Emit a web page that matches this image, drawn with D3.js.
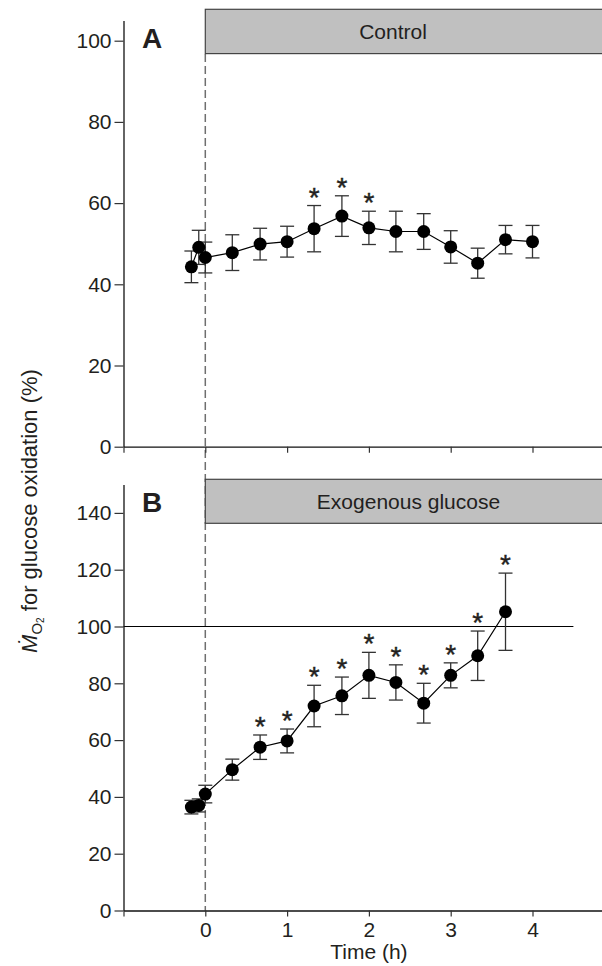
<!DOCTYPE html>
<html><head><meta charset="utf-8">
<script src="https://cdn.jsdelivr.net/npm/d3@7"></script>
<style>
html,body{margin:0;padding:0;background:#fff;}
svg text{font-family:"Liberation Sans",Arial,sans-serif;fill:#231f20;}
</style></head>
<body>
<svg id="chart" width="602" height="966"></svg>
<script>
// ---- data ----
const timesA = [-0.17, -0.08, 0, 0.33, 0.67, 1, 1.33, 1.67, 2, 2.33, 2.67, 3, 3.33, 3.67, 4];
const meanA  = [44.3, 49.1, 46.6, 47.8, 49.9, 50.5, 53.7, 56.8, 53.9, 53.0, 53.0, 49.2, 45.2, 51.0, 50.5];
const semA   = [3.9, 4.2, 3.8, 4.4, 3.9, 3.8, 5.7, 5.0, 4.1, 5.0, 4.4, 4.0, 3.7, 3.5, 4.0];
const sigA   = [0, 0, 0, 0, 0, 0, 1, 1, 1, 0, 0, 0, 0, 0, 0];

const timesB = [-0.17, -0.08, 0, 0.33, 0.67, 1, 1.33, 1.67, 2, 2.33, 2.67, 3, 3.33, 3.67];
const meanB  = [36.4, 37.0, 41.0, 49.6, 57.5, 59.7, 72.0, 75.6, 82.8, 80.3, 73.0, 82.8, 89.7, 105.2];
const semB   = [2.4, 2.3, 3.1, 3.7, 4.3, 4.2, 7.3, 6.6, 8.1, 6.2, 7.0, 4.4, 8.7, 13.6];
const sigB   = [0, 0, 0, 0, 1, 1, 1, 1, 1, 1, 1, 1, 1, 1];

const xTicks = [-1, 0, 1, 2, 3, 4];
const xTickLabels = ["", "0", "1", "2", "3", "4"];
const yTicksA = [0, 20, 40, 60, 80, 100];
const yTicksB = [0, 20, 40, 60, 80, 100, 120, 140];
const barLabelA = "Control";
const barLabelB = "Exogenous glucose";
const refLineB = 100;
const refLineEnd = 4.5;

// ---- layout ----
const svg = d3.select("#chart");
const x = d3.scaleLinear().domain([-1, 5.9]).range([123.5, 123.5 + 6.9 * 81.8]);
const yA = d3.scaleLinear().domain([0, 105]).range([446.7, 446.7 - 105 * 4.06]);
const yB = d3.scaleLinear().domain([0, 150]).range([910.5, 910.5 - 150 * 2.84]);

// dashed start line spanning both panels
svg.append("line")
  .attr("x1", x(0)).attr("x2", x(0))
  .attr("y1", 54).attr("y2", yB(0))
  .attr("stroke", "#6f6f6f").attr("stroke-width", 1.5)
  .attr("stroke-dasharray", "8,4");

function grayBar(y0, y1, label, cx) {
  svg.append("rect")
    .attr("x", x(0)).attr("y", y0)
    .attr("width", 700).attr("height", y1 - y0)
    .attr("fill", "#c0c0c0").attr("stroke", "#444").attr("stroke-width", 1.2);
  svg.append("text").attr("x", cx).attr("y", (y0 + y1) / 2)
    .attr("dy", "0.36em").attr("text-anchor", "middle")
    .attr("font-size", 21).text(label);
}
grayBar(9.3, 53.6, barLabelA, 393);
grayBar(479.3, 523.3, barLabelB, 408.5);

function panel(y, ticks, times, mean, sem, sig, letter, letterY, showXLabels) {
  const g = svg.append("g");
  const ya = g.append("g").attr("transform", `translate(${x(-1)},0)`)
    .call(d3.axisLeft(y).tickValues(ticks).tickSize(9).tickPadding(3).tickSizeOuter(0));
  const xa = g.append("g").attr("transform", `translate(0,${y(0)})`)
    .call(d3.axisBottom(x).tickValues(xTicks).tickSize(6).tickPadding(6).tickSizeOuter(0)
      .tickFormat((d, i) => showXLabels ? xTickLabels[i] : ""));
  [ya, xa].forEach(a => {
    a.select(".domain").attr("stroke", "#111").attr("stroke-width", 1.3);
    a.selectAll(".tick line").attr("stroke", "#333").attr("stroke-width", 1.2);
    a.selectAll(".tick text").attr("font-size", 21).attr("fill", "#231f20")
      .attr("font-family", "Liberation Sans, Arial, sans-serif");
  });
  g.append("text").attr("x", 142).attr("y", letterY)
    .attr("font-size", 28).attr("font-weight", "bold").text(letter);

  const idx = d3.range(times.length);
  const eb = g.append("g").attr("stroke", "#333").attr("stroke-width", 1.3);
  idx.forEach(i => {
    const cx = x(times[i]), t = y(mean[i] + sem[i]), b = y(mean[i] - sem[i]);
    eb.append("line").attr("x1", cx).attr("x2", cx).attr("y1", t).attr("y2", b);
    eb.append("line").attr("x1", cx - 7).attr("x2", cx + 7).attr("y1", t).attr("y2", t);
    eb.append("line").attr("x1", cx - 7).attr("x2", cx + 7).attr("y1", b).attr("y2", b);
  });
  g.append("path").datum(idx)
    .attr("d", d3.line().x(i => x(times[i])).y(i => y(mean[i])))
    .attr("fill", "none").attr("stroke", "#000").attr("stroke-width", 1.2);
  g.selectAll("circle.pt").data(idx).join("circle")
    .attr("cx", i => x(times[i])).attr("cy", i => y(mean[i]))
    .attr("r", 6.5).attr("fill", "#000");
  g.selectAll("text.star").data(idx.filter(i => sig[i])).join("text")
    .attr("x", i => x(times[i])).attr("y", i => y(mean[i] + sem[i]) + 1)
    .attr("text-anchor", "middle").attr("font-size", 28)
    .attr("stroke", "#231f20").attr("stroke-width", 0.4).text("*");
  return g;
}

panel(yA, yTicksA, timesA, meanA, semA, sigA, "A", 48.3, false);
const gB = panel(yB, yTicksB, timesB, meanB, semB, sigB, "B", 511.7, true);

// reference line at 100% in panel B
gB.insert("line", ":first-child")
  .attr("x1", x(-1)).attr("x2", x(refLineEnd))
  .attr("y1", yB(refLineB)).attr("y2", yB(refLineB))
  .attr("stroke", "#000").attr("stroke-width", 1.2);

// x axis title
svg.append("text").attr("x", x(0) + 2.0 * 81.8).attr("y", 959)
  .attr("text-anchor", "middle").attr("font-size", 21).text("Time (h)");

// y axis title
const yt = svg.append("text")
  .attr("transform", "translate(37,511) rotate(-90)")
  .attr("text-anchor", "middle").attr("font-size", 22);
yt.append("tspan").attr("font-style", "italic").text("Ṁ");
yt.append("tspan").attr("font-size", 15).attr("dy", 5).text("O");
yt.append("tspan").attr("font-size", 10).attr("dy", 2).text("2");
yt.append("tspan").attr("dy", -7).text(" for glucose oxidation (%)");
</script>
</body></html>
